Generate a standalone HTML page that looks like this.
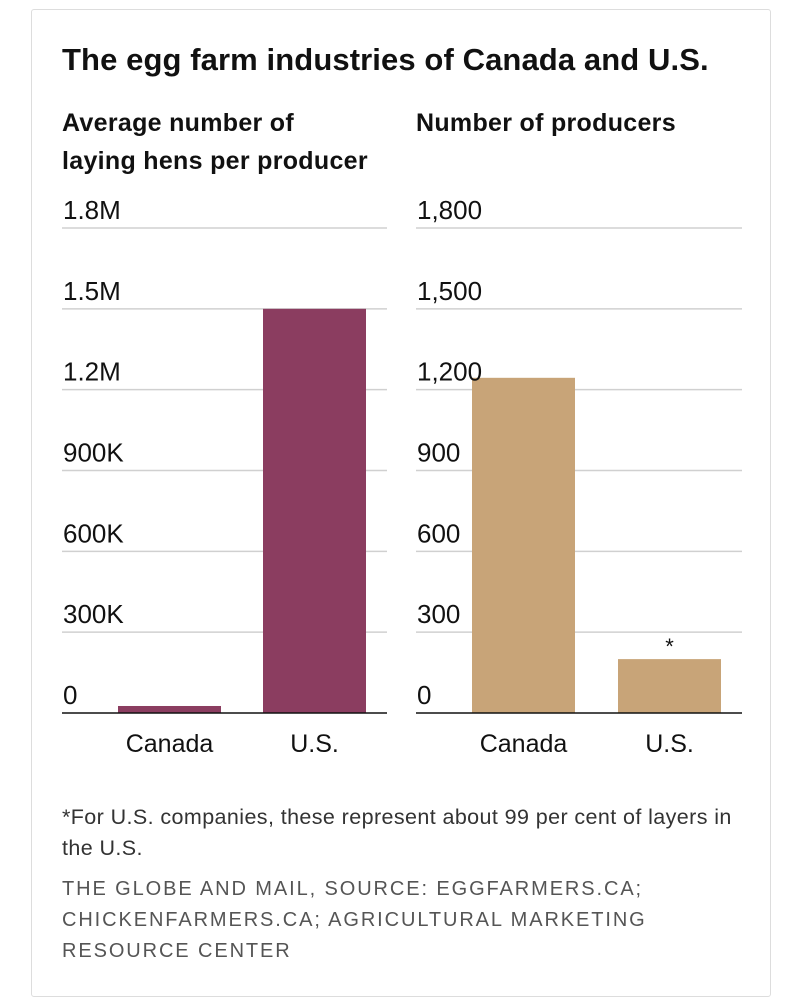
<!DOCTYPE html>
<html><head><meta charset="utf-8"><style>
body{margin:0;background:#fff;width:804px;height:1000px;position:relative;font-family:"Liberation Sans",sans-serif;}
.card{position:absolute;left:31px;top:9px;width:740px;height:988px;border:1px solid #ddd;border-radius:3px;box-sizing:border-box;}
.t{position:absolute;white-space:nowrap;}
</style></head><body>
<div class="card"></div>
<div class="t" style="left:62px;top:42px;font-size:31px;font-weight:bold;color:#111;letter-spacing:0.1px">The egg farm industries of Canada and U.S.</div>
<div class="t" style="left:62px;top:104px;font-size:25px;font-weight:bold;color:#111;line-height:38px;letter-spacing:0.3px">Average number of<br>laying hens per producer</div>
<div class="t" style="left:416px;top:104px;font-size:25px;font-weight:bold;color:#111;line-height:38px;letter-spacing:0.3px">Number of producers</div>
<svg id="svg" width="804" height="1000" style="position:absolute;left:0;top:0"></svg>
<div class="t" style="left:62px;top:802px;font-size:21.5px;color:#333;line-height:31px;letter-spacing:0.4px">*For U.S. companies, these represent about 99 per cent of layers in<br>the U.S.</div>
<div class="t" style="left:62px;top:874px;font-size:20px;color:#555;line-height:31px;letter-spacing:1.9px">THE GLOBE AND MAIL, SOURCE: EGGFARMERS.CA;<br>CHICKENFARMERS.CA; AGRICULTURAL MARKETING<br>RESOURCE CENTER</div>
<script>
const categories=["Canada","U.S."];
const hensValues=[26000,1500000];
const producerValues=[1244,200];
const hensTicks=[0,300000,600000,900000,1200000,1500000,1800000];
const hensTickLabels=["0","300K","600K","900K","1.2M","1.5M","1.8M"];
const prodTicks=[0,300,600,900,1200,1500,1800];
const prodTickLabels=["0","300","600","900","1,200","1,500","1,800"];
const svg=document.getElementById('svg');
const NS='http://www.w3.org/2000/svg';
function mk(tag,attrs){const e=document.createElementNS(NS,tag);for(const k in attrs)e.setAttribute(k,attrs[k]);svg.appendChild(e);return e;}
function chart(x0,x1,max,ticks,labels,vals,color,prefix,barX){
  const y=v=>713-(v/max)*485;
  ticks.forEach((t,i)=>{
    if(t>0){const l=mk('line',{x1:x0,x2:x1,y1:y(t),y2:y(t),stroke:'#d0d0d0','stroke-width':1.5});
    
    }
  });
  vals.forEach((v,i)=>{
    const r=mk('rect',{x:barX[i],y:y(v),width:103,height:713-y(v),fill:color});
    
    
    const tx=mk('text',{x:barX[i]+51.5,y:752,'font-size':25,'text-anchor':'middle',fill:'#111','font-family':'Liberation Sans, sans-serif'});
    tx.textContent=categories[i];
    
    
  });
  ticks.forEach((t,i)=>{
    const tx=mk('text',{x:x0+1,y:y(t)-9,'font-size':26,fill:'#111','font-family':'Liberation Sans, sans-serif'});
    tx.textContent=labels[i];
    
    
  });
  const b=mk('line',{x1:x0,x2:x1,y1:713,y2:713,stroke:'#111','stroke-width':1.5});
  
  
  return y;
}
chart(62,387,1800000,hensTicks,hensTickLabels,hensValues,'#8b3d60','hens',[118,263]);
const yp=chart(416,742,1800,prodTicks,prodTickLabels,producerValues,'#c8a478','producers',[472,618]);
const a=mk('text',{x:669.5,y:yp(producerValues[1])-5,'font-size':22,'text-anchor':'middle',fill:'#111','font-family':'Liberation Sans, sans-serif'});
a.textContent='*';


</script>
</body></html>
